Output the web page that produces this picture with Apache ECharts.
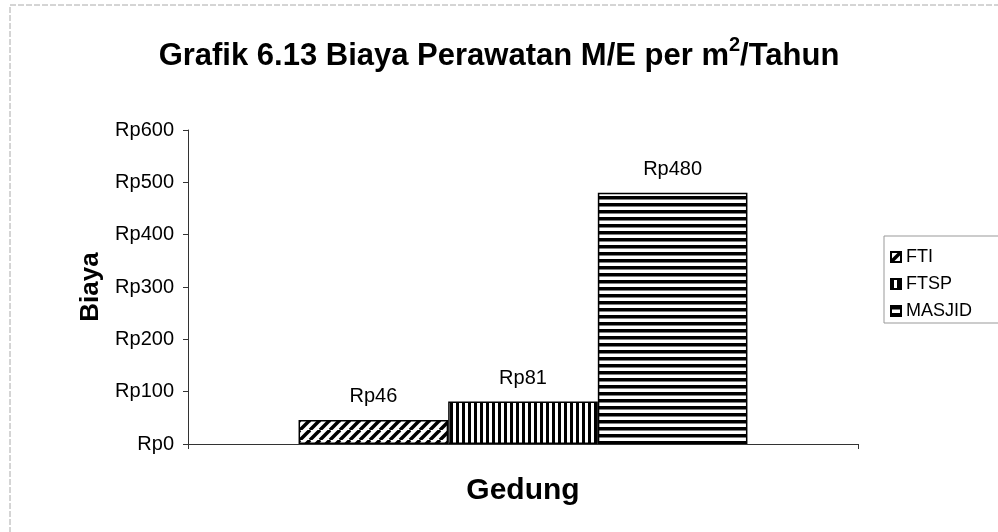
<!DOCTYPE html>
<html>
<head>
<meta charset="utf-8">
<script src="https://cdn.jsdelivr.net/npm/echarts@6/dist/echarts.min.js"></script>
<style>
  html, body { margin: 0; padding: 0; background: #fff; }
  #chart { width: 998px; height: 532px; }
</style>
</head>
<body>
<div id="chart"></div>
<script>
// chart data
const categories = [''];
const seriesNames = ['FTI', 'FTSP', 'MASJID'];
const seriesValues = [46, 81, 480];
const yTicks = [0, 100, 200, 300, 400, 500, 600];

const FONT = '"Liberation Sans", Arial, sans-serif';

// fill patterns like the old Excel hatches
function makePattern(kind) {
    const c = document.createElement('canvas');
    const ctx = c.getContext('2d');
    if (kind === 'diag') {
        c.width = 10; c.height = 10;
        ctx.fillStyle = '#fff'; ctx.fillRect(0, 0, 10, 10);
        ctx.strokeStyle = '#000'; ctx.lineWidth = 3.5;
        for (let o = -10; o <= 10; o += 10) {
            ctx.beginPath();
            ctx.moveTo(o, 10); ctx.lineTo(o + 10, 0);
            ctx.stroke();
        }
    } else if (kind === 'vert') {
        c.width = 6; c.height = 6;
        ctx.fillStyle = '#fff'; ctx.fillRect(0, 0, 6, 6);
        ctx.fillStyle = '#000'; ctx.fillRect(0, 0, 3, 6);
    } else {
        c.width = 6; c.height = 7;
        ctx.fillStyle = '#fff'; ctx.fillRect(0, 0, 6, 7);
        ctx.fillStyle = '#000'; ctx.fillRect(0, 0, 6, 3.5);
    }
    return { image: c, repeat: 'repeat' };
}
const patterns = [makePattern('diag'), makePattern('vert'), makePattern('horiz')];

const chart = echarts.init(document.getElementById('chart'));

chart.setOption({
    animation: false,
    backgroundColor: '#fff',
    title: {
        text: 'Grafik 6.13 Biaya Perawatan M/E per m{sup|2}/Tahun',
        left: 'center',
        top: 30,
        textStyle: {
            fontFamily: FONT, fontSize: 31, fontWeight: 'bold', color: '#000',
            rich: {
                sup: { fontFamily: FONT, fontSize: 20, fontWeight: 'bold', color: '#000', verticalAlign: 'top', padding: [0, 0, 22, 0] }
            }
        }
    },
    legend: {
        orient: 'vertical',
        left: 884, top: 236,
        padding: [12, 60, 3, 6],
        itemGap: 9,
        itemWidth: 10, itemHeight: 10,
        icon: 'rect',
        borderColor: '#999', borderWidth: 1,
        data: seriesNames,
        textStyle: { fontFamily: FONT, fontSize: 18, color: '#000' }
    },
    grid: { left: 188, right: 140, top: 130, bottom: 88 },
    xAxis: {
        type: 'category',
        data: categories,
        name: 'Gedung',
        nameLocation: 'middle',
        nameGap: 32,
        nameTextStyle: { fontFamily: FONT, fontSize: 30, fontWeight: 'bold', color: '#000' },
        axisLine: { lineStyle: { color: '#333', width: 1 } },
        axisTick: { show: true, length: 5, lineStyle: { color: '#333' } },
        axisLabel: { show: false }
    },
    yAxis: {
        type: 'value',
        min: yTicks[0], max: yTicks[yTicks.length - 1], interval: 100,
        name: 'Biaya',
        nameLocation: 'middle',
        nameGap: 33,
        nameTextStyle: { fontFamily: FONT, fontSize: 26, fontWeight: 'bold', color: '#000' },
        axisLine: { show: true, lineStyle: { color: '#333', width: 1 } },
        axisTick: { show: true, length: 5, lineStyle: { color: '#333' } },
        splitLine: { show: false },
        axisLabel: {
            fontFamily: FONT, fontSize: 20, color: '#000', margin: 14,
            formatter: v => 'Rp' + v
        }
    },
    graphic: [{
        type: 'rect',
        shape: { x: 10, y: 5, width: 1000, height: 540 },
        style: { fill: 'none', stroke: '#aaa', lineWidth: 1, lineDash: [6, 2] },
        silent: true
    }],
    series: seriesNames.map((name, i) => ({
        name: name,
        type: 'bar',
        barGap: '0%',
        barCategoryGap: '33%',
        data: [seriesValues[i]],
        itemStyle: { color: patterns[i], borderColor: '#000', borderWidth: 1.5 },
        label: {
            show: true, position: 'top', distance: 13,
            fontFamily: FONT, fontSize: 20, color: '#000',
            formatter: p => 'Rp' + p.value
        }
    }))
});
</script>
</body>
</html>
